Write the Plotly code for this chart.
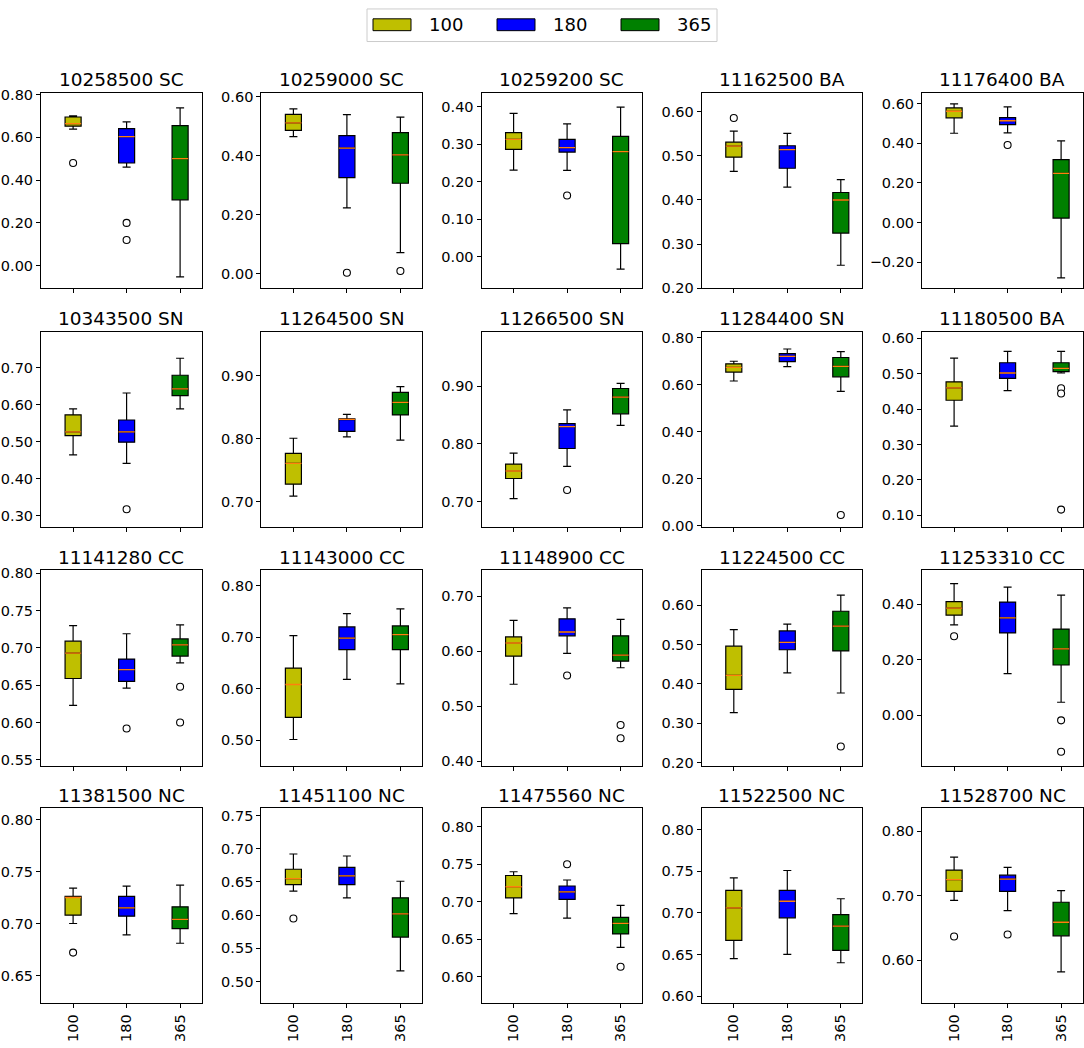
import plotly.graph_objects as go

# station panels, in reading order (4 rows x 5 cols)
stations = ["10258500 SC", "10259000 SC", "10259200 SC", "11162500 BA", "11176400 BA",
            "10343500 SN", "11264500 SN", "11266500 SN", "11284400 SN", "11180500 BA",
            "11141280 CC", "11143000 CC", "11148900 CC", "11224500 CC", "11253310 CC",
            "11381500 NC", "11451100 NC", "11475560 NC", "11522500 NC", "11528700 NC"]
windows = ["100", "180", "365"]
colors = ["#bfbf00", "#0000ff", "#008000"]

# box stats per station, one value per window (100, 180, 365)
lower = [[0.638, 0.461, -0.052], [0.465, 0.224, 0.072], [0.231, 0.230, -0.033], [0.465, 0.429, 0.252], [0.451, 0.453, -0.279],
         [0.464, 0.441, 0.588], [0.709, 0.803, 0.798], [0.705, 0.761, 0.832], [0.615, 0.676, 0.571], [0.352, 0.452, 0.502],
         [0.623, 0.646, 0.680], [0.501, 0.618, 0.609], [0.540, 0.596, 0.570], [0.327, 0.428, 0.377], [0.325, 0.150, 0.047],
         [0.700, 0.689, 0.681], [0.636, 0.626, 0.516], [0.684, 0.678, 0.639], [0.645, 0.650, 0.640], [0.693, 0.677, 0.582]]
q1 = [[0.652, 0.480, 0.308], [0.486, 0.326, 0.307], [0.286, 0.279, 0.035], [0.497, 0.472, 0.325], [0.529, 0.494, 0.023],
      [0.516, 0.498, 0.624], [0.728, 0.812, 0.838], [0.740, 0.792, 0.852], [0.653, 0.697, 0.633], [0.425, 0.487, 0.506],
      [0.659, 0.655, 0.689], [0.544, 0.676, 0.676], [0.591, 0.628, 0.582], [0.386, 0.487, 0.484], [0.360, 0.296, 0.181],
      [0.708, 0.707, 0.695], [0.646, 0.646, 0.567], [0.705, 0.703, 0.657], [0.667, 0.694, 0.655], [0.707, 0.707, 0.638]]
median = [[0.664, 0.603, 0.500], [0.511, 0.426, 0.403], [0.313, 0.291, 0.280], [0.522, 0.514, 0.400], [0.562, 0.514, 0.248],
          [0.526, 0.526, 0.642], [0.761, 0.831, 0.858], [0.753, 0.830, 0.881], [0.673, 0.720, 0.677], [0.460, 0.502, 0.515],
          [0.693, 0.671, 0.704], [0.608, 0.698, 0.705], [0.615, 0.635, 0.593], [0.422, 0.506, 0.547], [0.385, 0.350, 0.239],
          [0.725, 0.715, 0.704], [0.655, 0.659, 0.602], [0.720, 0.713, 0.671], [0.706, 0.714, 0.684], [0.725, 0.726, 0.659]]
q3 = [[0.695, 0.641, 0.655], [0.540, 0.468, 0.478], [0.331, 0.313, 0.321], [0.531, 0.523, 0.417], [0.579, 0.530, 0.318],
      [0.572, 0.558, 0.679], [0.777, 0.832, 0.874], [0.765, 0.835, 0.896], [0.688, 0.731, 0.715], [0.477, 0.531, 0.531],
      [0.709, 0.685, 0.712], [0.640, 0.720, 0.722], [0.626, 0.659, 0.628], [0.496, 0.535, 0.585], [0.409, 0.407, 0.310],
      [0.726, 0.726, 0.716], [0.669, 0.672, 0.626], [0.735, 0.721, 0.679], [0.727, 0.727, 0.698], [0.740, 0.732, 0.690]]
upper = [[0.700, 0.672, 0.738], [0.559, 0.539, 0.531], [0.382, 0.354, 0.399], [0.556, 0.551, 0.446], [0.599, 0.584, 0.412],
         [0.588, 0.631, 0.725], [0.801, 0.839, 0.883], [0.784, 0.859, 0.905], [0.699, 0.751, 0.740], [0.544, 0.563, 0.563],
         [0.730, 0.719, 0.731], [0.703, 0.746, 0.755], [0.656, 0.679, 0.658], [0.538, 0.552, 0.626], [0.473, 0.461, 0.432],
         [0.734, 0.736, 0.737], [0.692, 0.689, 0.651], [0.740, 0.729, 0.695], [0.742, 0.751, 0.717], [0.760, 0.744, 0.708]]
outliers = [[[0.48], [0.20, 0.12], []], [[], [0.004], [0.010]], [[], [0.163], []], [[0.586], [], []], [[], [0.392], []],
            [[], [0.317], []], [[], [], []], [[], [0.720], []], [[], [], [0.046]], [[], [], [0.459, 0.444, 0.116]],
            [[], [0.592], [0.648, 0.600]], [[], [], []], [[], [0.556], [0.466, 0.442]], [[], [], [0.241]], [[0.284], [], [-0.018, -0.131]],
            [[0.672], [], []], [[0.595], [], []], [[], [0.750], [0.613]], [[], [], []], [[0.637], [0.640], []]]

# axis limits / tick steps per panel
y_ranges = [[-0.105, 0.808], [-0.048, 0.613], [-0.084, 0.437], [0.200, 0.643], [-0.331, 0.655],
            [0.269, 0.797], [0.660, 0.9705], [0.656, 0.9946], [-0.005, 0.825], [0.067, 0.619],
            [0.542, 0.804], [0.450, 0.830], [0.392, 0.747], [0.192, 0.689], [-0.181, 0.521],
            [0.623, 0.811], [0.467, 0.761], [0.564, 0.825], [0.591, 0.826], [0.533, 0.836]]
y_steps = [0.2, 0.2, 0.1, 0.1, 0.2,
           0.1, 0.1, 0.1, 0.2, 0.1,
           0.05, 0.1, 0.1, 0.1, 0.2,
           0.05, 0.05, 0.05, 0.05, 0.1]

W, H = 1084, 1048
col_left = [41, 261.3, 481.5, 701.7, 922]
row_top = [88, 330, 572, 813]
pw, ph = 160.5, 198
box_w = 0.3
font = "DejaVu Sans"

fig = go.Figure()
layout = {}
annotations = []
for i, name in enumerate(stations):
    r, c = divmod(i, 5)
    sfx = "" if i == 0 else str(i + 1)
    xa, ya = "x" + sfx, "y" + sfx
    for j, w in enumerate(windows):
        pos = j + 1
        fig.add_trace(go.Box(x=[pos], q1=[q1[i][j]], median=[median[i][j]], q3=[q3[i][j]],
                             lowerfence=[lower[i][j]], upperfence=[upper[i][j]],
                             width=box_w, whiskerwidth=0.5, fillcolor=colors[j],
                             line=dict(color="black", width=1.2), boxpoints=False,
                             xaxis=xa, yaxis=ya, showlegend=False, name=w))
        fig.add_trace(go.Scatter(x=[pos - box_w / 2, pos + box_w / 2], y=[median[i][j]] * 2,
                                 mode="lines", line=dict(color="#ff7f0e", width=1.3),
                                 xaxis=xa, yaxis=ya, showlegend=False, hoverinfo="skip"))
        if outliers[i][j]:
            fig.add_trace(go.Scatter(x=[pos] * len(outliers[i][j]), y=outliers[i][j], mode="markers",
                                     marker=dict(symbol="circle", size=7, color="white",
                                                 line=dict(color="black", width=1.1)),
                                     xaxis=xa, yaxis=ya, showlegend=False))
    x0 = col_left[c] / W
    x1 = (col_left[c] + pw) / W
    y1 = 1 - row_top[r] / H
    y0 = 1 - (row_top[r] + ph) / H
    layout["xaxis" + sfx] = dict(domain=[x0, x1], range=[0.4, 3.4], type="linear", anchor=ya,
                                 tickvals=[1, 2, 3], ticktext=windows, showticklabels=(r == 3),
                                 tickangle=-90, ticks="outside", ticklen=4, tickcolor="black",
                                 showline=True, mirror=True, linecolor="black", linewidth=1,
                                 showgrid=False, zeroline=False,
                                 tickfont=dict(family=font, size=14.5, color="black"))
    layout["yaxis" + sfx] = dict(domain=[y0, y1], range=y_ranges[i], anchor=xa,
                                 dtick=y_steps[i], tick0=0, tickformat=".2f",
                                 ticks="outside", ticklen=4, tickcolor="black",
                                 showline=True, mirror=True, linecolor="black", linewidth=1,
                                 showgrid=False, zeroline=False,
                                 tickfont=dict(family=font, size=14.5, color="black"))
    annotations.append(dict(text=name, x=(x0 + x1) / 2, y=1 - (row_top[r] - 13) / H,
                            xref="paper", yref="paper", xanchor="center", yanchor="middle",
                            showarrow=False, font=dict(family=font, size=18.5, color="black")))

# legend drawn by hand to get matplotlib-like wide patches
shapes = [dict(type="rect", xref="paper", yref="paper", x0=367 / W, x1=717 / W,
               y0=1 - 36 / H, y1=1 - 3 / H, line=dict(color="#cccccc", width=1), fillcolor="white")]
leg_x = [373, 497, 621]
for j, w in enumerate(windows):
    shapes.append(dict(type="rect", xref="paper", yref="paper", x0=leg_x[j] / W, x1=(leg_x[j] + 38) / W,
                       y0=1 - 25 / H, y1=1 - 13 / H, line=dict(color="black", width=1),
                       fillcolor=colors[j]))
    annotations.append(dict(text=w, x=(leg_x[j] + 54) / W, y=1 - 19 / H, xref="paper", yref="paper",
                            xanchor="left", yanchor="middle", showarrow=False,
                            font=dict(family=font, size=18, color="black")))

fig.update_layout(**layout)
fig.update_layout(width=W, height=H, margin=dict(l=0, r=0, t=0, b=0),
                  plot_bgcolor="white", paper_bgcolor="white", boxmode="overlay",
                  annotations=annotations, shapes=shapes, showlegend=False)
fig.write_html("out.html", config={"displayModeBar": False},
               post_script="document.body.style.margin='0';")
